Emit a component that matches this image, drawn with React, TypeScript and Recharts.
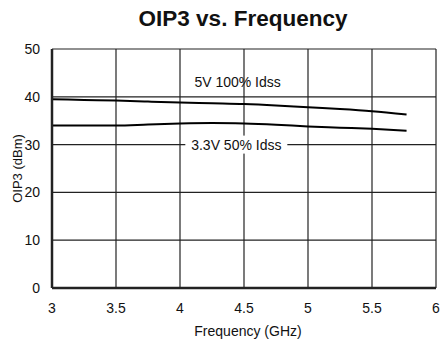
import { LineChart, Line, XAxis, YAxis, CartesianGrid, ReferenceDot } from 'recharts';

// OIP3 (dBm)
const freqs = [3, 3.25, 3.5, 3.75, 4, 4.25, 4.5, 4.75, 5, 5.25, 5.5, 5.77];
const oip3High = [39.5, 39.35, 39.2, 39.0, 38.8, 38.65, 38.5, 38.2, 37.8, 37.45, 37.0, 36.3];
const oip3Low = [34.0, 34.0, 34.0, 34.2, 34.4, 34.5, 34.4, 34.15, 33.8, 33.55, 33.3, 32.9];

const xTicks = [3, 3.5, 4, 4.5, 5, 5.5, 6];
const yTicks = [0, 10, 20, 30, 40, 50];

const labelHigh = { x: 4.45, y: 43, text: '5V 100% Idss' };
const labelLow = { x: 4.44, y: 30, text: '3.3V 50% Idss' };

const data = freqs.map((f, i) => ({ freq: f, high: oip3High[i], low: oip3Low[i] }));

const font = '"Liberation Sans", Arial, sans-serif';

// text label, optionally with a white box behind it so the grid line is hidden
const makeLabel = (text: string, boxed: boolean) => (props: any) => {
  const { viewBox } = props;
  const cx = viewBox.x + viewBox.width / 2;
  const cy = viewBox.y + viewBox.height / 2;
  return (
    <g>
      {boxed && <rect x={cx - 51} y={cy - 9} width={102} height={18} fill="#fff" />}
      <text x={cx} y={cy} textAnchor="middle" dominantBaseline="central" fontFamily={font} fontSize={14} fill="#111">
        {text}
      </text>
    </g>
  );
};

export default function App() {
  return (
    <div style={{ position: 'absolute', left: 0, top: 0, width: 440, height: 344, background: '#fff' }}>
      <div
        style={{
          position: 'absolute',
          left: 0,
          top: 6,
          width: 486,
          textAlign: 'center',
          fontFamily: font,
          fontWeight: 'bold',
          fontSize: 22.5,
          color: '#111',
        }}
      >
        OIP3 vs. Frequency
      </div>
      <LineChart width={440} height={344} data={data} margin={{ top: 49, right: 4, left: 0, bottom: 8 }}>
        <CartesianGrid stroke="#222" strokeWidth={1.2} />
        <XAxis
          dataKey="freq"
          type="number"
          domain={[3, 6]}
          ticks={xTicks}
          tickLine={false}
          axisLine={{ stroke: '#222', strokeWidth: 2.5 }}
          tick={{ fill: '#111', fontSize: 14, fontFamily: font }}
          tickMargin={9}
          height={48}
          label={{ value: 'Frequency (GHz)', position: 'insideBottom', offset: 0, dx: 4, fill: '#111', fontSize: 14, fontFamily: font }}
        />
        <YAxis
          type="number"
          domain={[0, 50]}
          ticks={yTicks}
          width={52}
          tickLine={false}
          axisLine={{ stroke: '#222', strokeWidth: 2.5 }}
          tick={{ fill: '#111', fontSize: 14, fontFamily: font }}
          tickMargin={6}
          label={{ value: 'OIP3 (dBm)', angle: -90, position: 'insideLeft', offset: 17, style: { textAnchor: 'middle' }, fill: '#111', fontSize: 13, fontFamily: font }}
        />
        <Line type="monotone" dataKey="high" stroke="#000" strokeWidth={2} dot={false} isAnimationActive={false} />
        <Line type="monotone" dataKey="low" stroke="#000" strokeWidth={2} dot={false} isAnimationActive={false} />
        <ReferenceDot x={labelHigh.x} y={labelHigh.y} r={0} fill="none" stroke="none" label={makeLabel(labelHigh.text, false)} />
        <ReferenceDot x={labelLow.x} y={labelLow.y} r={0} fill="none" stroke="none" label={makeLabel(labelLow.text, true)} />
      </LineChart>
    </div>
  );
}
